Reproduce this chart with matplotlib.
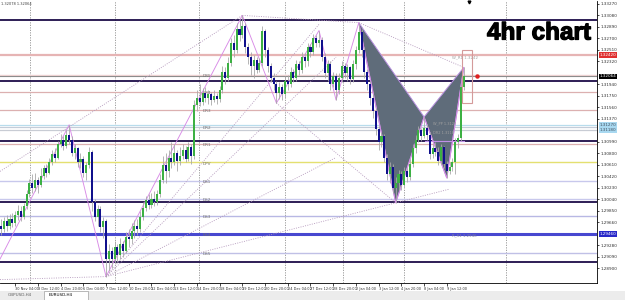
import matplotlib
matplotlib.use("Agg")
import matplotlib.pyplot as plt
import matplotlib.transforms as mtransforms
import matplotlib.patheffects as pe
from matplotlib.patches import Polygon, Rectangle
import numpy as np

# EURUSD H4 candles (bar index 0..163), open = previous close
first_open = 1.2960
closes = [1.2955, 1.2968, 1.2960, 1.2972, 1.2965, 1.2978, 1.2985, 1.2975, 1.2992, 1.3012,
          1.3030, 1.3022, 1.3036, 1.3028, 1.3042, 1.3055, 1.3048, 1.3065, 1.3078, 1.3072,
          1.3095, 1.3102, 1.3092, 1.3110, 1.3102, 1.3080, 1.3088, 1.3065, 1.3070, 1.3048,
          1.3060, 1.3082, 1.3000, 1.2975, 1.2988, 1.2958, 1.2968, 1.2905, 1.2918, 1.2905,
          1.2925, 1.2912, 1.2930, 1.2918, 1.2942, 1.2938, 1.2952, 1.2960, 1.2955, 1.2975,
          1.2990, 1.3002, 1.2995, 1.3005, 1.3000, 1.3012, 1.3035, 1.3060, 1.3050, 1.3072,
          1.3065, 1.3080, 1.3068, 1.3075, 1.3085, 1.3070, 1.3090, 1.3075, 1.3160, 1.3172,
          1.3165, 1.3180, 1.3172, 1.3178, 1.3168, 1.3175, 1.3170, 1.3185, 1.3215, 1.3205,
          1.3230, 1.3262, 1.3250, 1.3285, 1.3275, 1.3290, 1.3255, 1.3240, 1.3225, 1.3235,
          1.3218, 1.3230, 1.3282, 1.3250, 1.3225, 1.3205, 1.3195, 1.3180, 1.3190, 1.3178,
          1.3200, 1.3195, 1.3215, 1.3205, 1.3228, 1.3218, 1.3240, 1.3232, 1.3255, 1.3248,
          1.3270, 1.3262, 1.3268, 1.3240, 1.3212, 1.3228, 1.3195, 1.3208, 1.3185, 1.3205,
          1.3225, 1.3212, 1.3222, 1.3202, 1.3228, 1.3250, 1.3280, 1.3250, 1.3215, 1.3195,
          1.3172, 1.3150, 1.3120, 1.3098, 1.3108, 1.3072, 1.3045, 1.3058, 1.3022, 1.3030,
          1.3045, 1.3028, 1.3050, 1.3040, 1.3062, 1.3088, 1.3102, 1.3118, 1.3108, 1.3122,
          1.3110, 1.3078, 1.3088, 1.3082, 1.3068, 1.3090, 1.3062, 1.3050, 1.3058, 1.3065,
          1.3098, 1.3105, 1.3190, 1.3207]
highs = [1.2972, 1.2975, 1.2978, 1.2980, 1.2982, 1.2985, 1.2995, 1.2992, 1.2998, 1.3020,
         1.3038, 1.3045, 1.3048, 1.3040, 1.3055, 1.3060, 1.3062, 1.3072, 1.3085, 1.3088,
         1.3100, 1.3112, 1.3108, 1.3118, 1.3127, 1.3108, 1.3095, 1.3090, 1.3080, 1.3075,
         1.3066, 1.3090, 1.3085, 1.3005, 1.2995, 1.2992, 1.2975, 1.2972, 1.2930, 1.2925,
         1.2935, 1.2930, 1.2940, 1.2935, 1.2950, 1.2955, 1.2965, 1.2970, 1.2972, 1.2985,
         1.3000, 1.3010, 1.3012, 1.3015, 1.3018, 1.3020, 1.3045, 1.3075, 1.3080, 1.3085,
         1.3098, 1.3095, 1.3085, 1.3090, 1.3095, 1.3092, 1.3098, 1.3095, 1.3168, 1.3185,
         1.3195, 1.3188, 1.3190, 1.3185, 1.3182, 1.3185, 1.3180, 1.3192, 1.3225, 1.3222,
         1.3240, 1.3270, 1.3275, 1.3295, 1.3300, 1.3308, 1.3295, 1.3262, 1.3248, 1.3242,
         1.3240, 1.3238, 1.3290, 1.3285, 1.3255, 1.3230, 1.3212, 1.3200, 1.3198, 1.3195,
         1.3208, 1.3210, 1.3222, 1.3220, 1.3235, 1.3232, 1.3248, 1.3245, 1.3262, 1.3260,
         1.3278, 1.3275, 1.3283, 1.3272, 1.3245, 1.3235, 1.3232, 1.3215, 1.3212, 1.3212,
         1.3232, 1.3230, 1.3228, 1.3225, 1.3235, 1.3258, 1.3296, 1.3285, 1.3255, 1.3220,
         1.3200, 1.3178, 1.3155, 1.3125, 1.3115, 1.3112, 1.3078, 1.3065, 1.3062, 1.3040,
         1.3052, 1.3050, 1.3058, 1.3055, 1.3070, 1.3095, 1.3110, 1.3125, 1.3122, 1.3140,
         1.3128, 1.3115, 1.3095, 1.3098, 1.3090, 1.3095, 1.3092, 1.3068, 1.3065, 1.3072,
         1.3105, 1.3112, 1.3195, 1.3222]
lows = [1.2945, 1.2950, 1.2952, 1.2955, 1.2958, 1.2960, 1.2970, 1.2968, 1.2972, 1.2988,
        1.3008, 1.3015, 1.3018, 1.3015, 1.3025, 1.3038, 1.3040, 1.3045, 1.3060, 1.3065,
        1.3070, 1.3090, 1.3085, 1.3088, 1.3095, 1.3075, 1.3070, 1.3058, 1.3055, 1.3040,
        1.3035, 1.3055, 1.2985, 1.2968, 1.2960, 1.2950, 1.2940, 1.2876, 1.2885, 1.2890,
        1.2898, 1.2900, 1.2905, 1.2908, 1.2915, 1.2925, 1.2930, 1.2940, 1.2945, 1.2950,
        1.2970, 1.2985, 1.2988, 1.2990, 1.2992, 1.2995, 1.3008, 1.3030, 1.3030, 1.3040,
        1.3055, 1.3060, 1.3050, 1.3060, 1.3070, 1.3065, 1.3068, 1.3062, 1.3070, 1.3150,
        1.3158, 1.3160, 1.3165, 1.3162, 1.3160, 1.3165, 1.3162, 1.3165, 1.3180, 1.3195,
        1.3200, 1.3225, 1.3240, 1.3245, 1.3265, 1.3270, 1.3245, 1.3228, 1.3210, 1.3205,
        1.3212, 1.3215, 1.3225, 1.3240, 1.3215, 1.3198, 1.3185, 1.3163, 1.3170, 1.3168,
        1.3172, 1.3185, 1.3190, 1.3198, 1.3200, 1.3210, 1.3212, 1.3222, 1.3225, 1.3240,
        1.3242, 1.3255, 1.3255, 1.3232, 1.3205, 1.3200, 1.3185, 1.3190, 1.3168, 1.3178,
        1.3198, 1.3205, 1.3200, 1.3195, 1.3198, 1.3220, 1.3245, 1.3240, 1.3205, 1.3185,
        1.3160, 1.3138, 1.3110, 1.3085, 1.3090, 1.3065, 1.3035, 1.3030, 1.3015, 1.2998,
        1.3020, 1.3020, 1.3025, 1.3032, 1.3035, 1.3058, 1.3080, 1.3098, 1.3100, 1.3105,
        1.3102, 1.3070, 1.3072, 1.3075, 1.3060, 1.3062, 1.3055, 1.3039, 1.3045, 1.3050,
        1.3045, 1.3088, 1.3100, 1.3185]

# time axis: a label every 8 bars, starting at bar 5
time_labels = ["30 Nov 04:00", "3 Dec 12:00", "4 Dec 20:00", "6 Dec 04:00", "7 Dec 12:00",
               "10 Dec 20:00", "12 Dec 04:00", "13 Dec 12:00", "14 Dec 20:00", "18 Dec 04:00",
               "19 Dec 12:00", "20 Dec 20:00", "24 Dec 04:00", "27 Dec 12:00", "28 Dec 20:00",
               "2 Jan 04:00", "3 Jan 12:00", "4 Jan 20:00", "8 Jan 04:00", "9 Jan 12:00"]
time_label_bars = [5, 13, 21, 29, 37, 45, 53, 61, 69, 77, 85, 93, 101, 109, 117, 125, 133, 141, 149, 157]
grid_bars = [10.2, 40.1, 69.7, 100.0, 120.4, 141.9, 177.8]

price_ticks = [1.3327, 1.3308, 1.3289, 1.3270, 1.3251, 1.3232, 1.3213, 1.3194, 1.3175, 1.3156,
               1.3137, 1.3118, 1.3099, 1.3080, 1.3061, 1.3042, 1.3023, 1.3004, 1.2985, 1.2966,
               1.2947, 1.2928, 1.2909, 1.2890]

# horizontal levels
round_levels = [1.3300, 1.3200, 1.3100, 1.3000, 1.2900]
pivot_names = ["DR5", "DR4", "DR3", "DR2", "DR1", "DPV", "DS1", "DS2", "DS3", "DS4", "DS5"]
pivot_levels = [1.3210, 1.3182, 1.3152, 1.3123, 1.3095, 1.3065, 1.3034, 1.3004, 1.2976, 1.2946, 1.2915]
pivot_colors = ["#f2d6d6", "#dcb0b0", "#dcb0b0", "#c4ccd8", "#dcb0b0", "#e4e070",
                "#c8c8ec", "#c8c8ec", "#b8b8e4", "#4848d0", "#c0c0e6"]
pivot_widths = [1.0, 0.9, 0.9, 0.9, 0.9, 1.0, 1.0, 1.0, 1.0, 2.2, 1.0]
weekly_r1 = 1.3242
weekly_levels = [1.3127, 1.3118]
current_price = 1.3207

# zigzag pivots (bar, price)
zz_bars = [-0.35, 24, 37, 85, 97, 112, 118, 126, 139, 149, 157, 163]
zz_prices = [1.2905, 1.3127, 1.2876, 1.3308, 1.3163, 1.3283, 1.3168, 1.3296, 1.2998, 1.3140, 1.3039, 1.3222]

# harmonic pattern X, A, B, C, D
pat_bars = [126, 139, 149, 157, 163]
pat_prices = [1.3296, 1.2998, 1.3140, 1.3039, 1.3222]

# dotted trend / fan lines: (bar0, price0, bar1, price1, bar where the ray stops)
dotted_lines = [
    (-0.35, 1.3050, 85, 1.3308, 85),
    (85, 1.3308, 126, 1.3296, 126),
    (126, 1.3296, 163, 1.3222, 163),
    (37, 1.2876, 85, 1.3143, 112),
    (37, 1.2876, 85, 1.3091, 118),
    (37, 1.2876, 73.6, 1.2965, 118),
    (37, 1.2876, 139, 1.2998, 158),
    (-0.35, 1.2871, 37, 1.2876, 37),
    (97, 1.3163, 139, 1.2998, 139),
]

x_lo, x_hi = -0.35, 209.9
y_lo, y_hi = 1.28654, 1.33318

fig = plt.figure(figsize=(6.25, 3.0), dpi=100)
fig.patch.set_facecolor("white")
ax = fig.add_axes([0.0, 17 / 300, 597 / 625, 282 / 300])
ax.set_xlim(x_lo, x_hi)
ax.set_ylim(y_lo, y_hi)
ax.set_facecolor("white")

# grid
for gb in grid_bars:
    ax.axvline(gb, color="#909090", lw=0.6, ls=(0, (1.5, 1.5)), zorder=1)

# horizontal levels
for lv, col, lw_ in zip(pivot_levels, pivot_colors, pivot_widths):
    ax.axhline(lv, color=col, lw=lw_, zorder=2)
for lv in round_levels:
    ax.axhline(lv, color="#1c0c48", lw=1.3, zorder=3)
ax.axhline(weekly_r1, color="#e6b4b4", lw=1.6, zorder=2)
ax.axhline(weekly_levels[0], color="#b8dcec", lw=0.9, zorder=2)
ax.axhline(weekly_levels[1], color="#c8ccd4", lw=0.9, zorder=2)
ax.axhline(current_price, color="#8c8c8c", lw=0.8, zorder=3)

for name, lv in zip(pivot_names, pivot_levels):
    ax.text(71, lv - 0.0002, name, fontsize=3.0, color="#707070", va="center", ha="left", zorder=6)

ax.text(159, weekly_r1 - 0.0005, "W_R1 1.3242", fontsize=2.8, color="#a0a0a0", zorder=6)
ax.text(152, weekly_levels[0] + 0.0001, "W_PP 1.3127", fontsize=2.6, color="#a0a0a0", zorder=6)
ax.text(152, weekly_levels[1] - 0.0006, "DR2 1.3118", fontsize=2.6, color="#a0a0a0", zorder=6)
ax.text(159, pivot_levels[9] - 0.0004, "R_S1 1.2946", fontsize=2.8, color="#8080a0", zorder=6)

# dotted lines
for b0, p0, b1, p1, stop in dotted_lines:
    slope = (p1 - p0) / (b1 - b0)
    ax.plot([b0, stop], [p0, p0 + slope * (stop - b0)], color="#b498bc", lw=0.6,
            ls=(0, (1.2, 1.6)), zorder=4)

# harmonic triangles
xab = [(pat_bars[i], pat_prices[i]) for i in (0, 1, 2)]
bcd = [(pat_bars[i], pat_prices[i]) for i in (2, 3, 4)]
for tri in (xab, bcd):
    ax.add_patch(Polygon(tri, closed=True, fc="#5f6c7a", ec="#b890e0", lw=0.7, zorder=4))
ax.plot([pat_bars[2] + 0.5, pat_bars[4]], [1.3101, 1.3101], color="#c090e8", lw=0.8, zorder=5)

# zigzag
ax.plot(zz_bars, zz_prices, color="#d88ae6", lw=0.65, zorder=5)

# candles
bars = np.arange(len(closes))
opens = np.array([first_open] + closes[:-1])
closes_a = np.array(closes)
up = closes_a >= opens
ax.vlines(bars, lows, highs, color="#a8a8a8", lw=0.6, zorder=6)
body_lo = np.minimum(opens, closes_a)
body_h = np.maximum(np.abs(closes_a - opens), 0.00012)
ax.bar(bars[up], body_h[up], bottom=body_lo[up], width=0.72, color="#3cb043", lw=0, zorder=7)
ax.bar(bars[~up], body_h[~up], bottom=body_lo[~up], width=0.72, color="#10108c", lw=0, zorder=7)

# rectangle around last swing and price marker
ax.add_patch(Rectangle((162.3, 1.31636), 3.5, 1.3251 - 1.31636, fill=False, ec="#d49a9a", lw=0.8, zorder=8))
ax.plot([167.6], [current_price], "o", color="#e02020", ms=2.2, zorder=8)

# axes styling
for s in ("left", "top"):
    ax.spines[s].set_visible(False)
for s in ("right", "bottom"):
    ax.spines[s].set_linewidth(0.6)

box_specs = [(weekly_r1, "1.32420", "#e03030", "white"),
             (current_price, "1.32064", "black", "white"),
             (weekly_levels[0], "1.31270", "#a8d8f0", "#405060"),
             (weekly_levels[1], "1.31180", "#a8d8f0", "#405060"),
             (pivot_levels[9], "1.29460", "#2828c8", "white")]
box_vals = [b[0] for b in box_specs]
# labels hidden under the coloured boxes are skipped, as the terminal does
shown_ticks = [v for v in price_ticks if min(abs(v - b) for b in box_vals) > 0.0007]

ax.yaxis.tick_right()
ax.set_yticks(shown_ticks)
ax.set_yticklabels(["%.5f" % v for v in shown_ticks])
ax.tick_params(axis="y", labelsize=3.0, length=1.5, width=0.5, pad=1, labelcolor="#303030")
ax.set_xticks(time_label_bars)
ax.set_xticklabels(time_labels)
ax.tick_params(axis="x", labelsize=2.5, length=2, width=0.5, pad=0.8, labelcolor="#303030")
for lab in ax.get_xticklabels():
    lab.set_ha("left")

trans = mtransforms.blended_transform_factory(ax.transAxes, ax.transData)
for val, txt, bg, fg in box_specs:
    ax.text(1.004, val, txt, transform=trans, fontsize=3.0, color=fg, va="center", ha="left",
            bbox=dict(boxstyle="square,pad=0.2", fc=bg, ec="none"), zorder=10, clip_on=False)

# header text and shift marker
fig.text(1 / 625, 1 - 4 / 300, "1.32078 1.32064", fontsize=2.6, color="#404040", va="center")
ax.plot([164.8], [y_hi - 0.0002], marker="v", color="black", ms=2.0, zorder=9, clip_on=False)

# big annotation
fig.text(487 / 625, 1 - 33 / 300, "4hr chart", fontsize=17.5, fontweight="bold",
         family="Liberation Sans", color="black", va="center", ha="left",
         path_effects=[pe.withStroke(linewidth=0.9, foreground="black")])

# tab bar
fig.add_artist(Rectangle((0, 0), 1, 9 / 300, transform=fig.transFigure, fc="#ececec", ec="none"))
fig.add_artist(Rectangle((44 / 625, 0.5 / 300), 44 / 625, 8.5 / 300, transform=fig.transFigure,
                         fc="white", ec="#a0a0a0", lw=0.5))
fig.text(8 / 625, 4.5 / 300, "GBPUSD,H4", fontsize=3.0, color="#606060", va="center")
fig.text(49 / 625, 4.5 / 300, "EURUSD,H4", fontsize=3.0, color="black", va="center")

fig.savefig("out.png", dpi=100)
